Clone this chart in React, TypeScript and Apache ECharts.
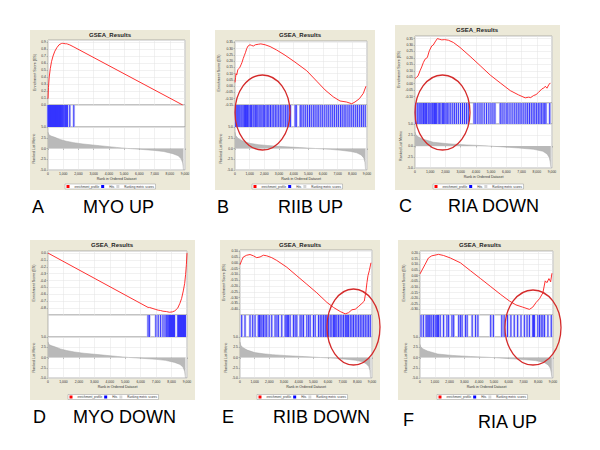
import React, { useEffect, useRef } from "react";
import * as echarts from "echarts";

// ---------- texts ----------
const SERIES_NAMES = ["enrichment_profile", "Hits", "Ranking metric scores"];
const panelLetters = ["A", "B", "C", "D", "E", "F"];
const panelNames = ["MYO UP", "RIIB UP", "RIA DOWN", "MYO DOWN", "RIIB DOWN", "RIA UP"];
const chartTitle = "GSEA_Results";
const esAxisName = "Enrichment Score (ES)";
const rankAxisName = "Ranked List Metric";
const xAxisName = "Rank in Ordered Dataset";

// ---------- enrichment profiles [rank, ES] ----------
const esA = [[0,0.09],[30,0.25],[80,0.4],[150,0.52],[230,0.62],[330,0.7],[450,0.77],[580,0.82],[720,0.86],[880,0.88],[950,0.882],[1040,0.88],[1150,0.876],[1210,0.877],[1280,0.872],[1430,0.86],[1700,0.83],[8850,0.0]];
const esB = [[0,0.03],[40,0.07],[70,0.1],[120,0.09],[190,0.13],[260,0.14],[330,0.15],[410,0.17],[480,0.19],[560,0.22],[640,0.245],[720,0.27],[800,0.3],[890,0.32],[1020,0.33],[1130,0.325],[1250,0.32],[1390,0.33],[1590,0.334],[1760,0.337],[2050,0.33],[2390,0.316],[2840,0.288],[3410,0.247],[4090,0.192],[4890,0.123],[5570,0.04],[6140,-0.03],[6700,-0.085],[7160,-0.118],[7600,-0.126],[7960,-0.14],[8180,-0.126],[8480,-0.1],[8750,-0.057],[8930,0.0]];
const esC = [[0,0.04],[110,0.05],[200,0.06],[330,0.1],[440,0.13],[550,0.164],[660,0.19],[810,0.203],[940,0.255],[1100,0.293],[1200,0.3],[1320,0.324],[1470,0.35],[1600,0.345],[1760,0.34],[1950,0.342],[2200,0.337],[2520,0.32],[2960,0.281],[3620,0.212],[4280,0.14],[4940,0.067],[5600,0.006],[6260,-0.054],[6800,-0.087],[7240,-0.11],[7460,-0.105],[7600,-0.108],[7790,-0.092],[7950,-0.085],[8120,-0.067],[8340,-0.04],[8450,-0.035],[8560,-0.02],[8670,-0.035],[8780,-0.01],[8890,0.006]];
const esD = [[0,0.0],[6478,-0.79],[6566,-0.79],[6983,-0.82],[7136,-0.83],[7290,-0.835],[7444,-0.845],[7663,-0.85],[7860,-0.86],[8050,-0.855],[8210,-0.84],[8400,-0.8],[8540,-0.73],[8650,-0.66],[8760,-0.55],[8850,-0.44],[8910,-0.31],[8960,-0.17],[9000,0.0]];
const esE = [[0,-0.017],[114,0.02],[228,0.05],[456,0.065],[683,0.071],[911,0.06],[1139,0.044],[1367,0.05],[1595,0.065],[1822,0.06],[2164,0.044],[2506,0.02],[3189,-0.038],[3873,-0.112],[4556,-0.185],[5239,-0.259],[5923,-0.341],[6378,-0.385],[6834,-0.42],[7176,-0.44],[7403,-0.43],[7631,-0.405],[7859,-0.4],[8087,-0.376],[8314,-0.35],[8474,-0.33],[8588,-0.244],[8656,-0.17],[8725,-0.112],[8816,-0.068],[8930,0.0]];
const esF = [[0,0.016],[341,0.1],[570,0.158],[797,0.177],[1253,0.19],[1595,0.18],[2050,0.158],[2734,0.115],[3417,0.044],[4100,-0.026],[4784,-0.097],[5467,-0.168],[6037,-0.224],[6492,-0.26],[6948,-0.28],[7404,-0.3],[7631,-0.28],[7859,-0.238],[8087,-0.205],[8314,-0.153],[8474,-0.046],[8588,-0.062],[8725,-0.026],[8839,-0.054],[8930,0.022]];

// ---------- hit positions (rank) ----------
const hitsA = [0,18,40,66,88,112,138,161,183,209,228,255,277,301,322,349,371,392,418,441,463,489,508,533,559,582,604,627,651,674,698,722,744,768,791,813,839,858,880,947,990,1035,1100,1145,1211,1277,1430,1694];
const hitsB = [40,120,190,260,330,410,480,560,640,690,720,760,800,850,890,960,1050,1130,1230,1300,1390,1480,1560,1650,1760,1840,1930,2020,2120,2230,2310,2420,2530,2640,2750,2860,2980,3090,3200,3330,3450,3560,3680,3780,4100,4180,4450,4560,4690,4820,4950,5080,5200,5340,5460,5590,5710,5850,5980,6120,6260,6390,6530,6660,6790,6930,7050,7190,7310,7440,7560,7700,7830,7960,8090,8230,8360,8500,8630,8750,8880];
const hitsC = [40,150,260,330,400,470,560,640,700,760,860,920,990,1060,1140,1200,1280,1350,1420,1520,1600,1700,1800,1880,1960,2040,2120,2230,2350,2480,2600,2720,2850,2990,3120,3250,3380,3500,3880,3990,4130,4270,4400,4550,4700,4850,4990,5120,5250,5600,5720,5850,5990,6100,6240,6380,6520,6650,6780,6900,7020,7150,7280,7400,7520,7640,7760,7870,7990,8100,8210,8320,8420,8520,8600,8850];
const hitsD = [6478,6566,6983,7136,7290,7444,7575,7663,7750,7816,7860,7882,7905,7928,7951,7975,7998,8021,8046,8069,8090,8116,8139,8162,8190,8410,8431,8455,8478,8502,8524,8549,8571,8596,8618,8641,8667,8689,8712,8734,8759,8781,8804,8829,8851,8874,8900];
const hitsE = [114,342,683,865,1025,1250,1330,1420,1500,1600,1710,1822,1990,2164,2392,2520,2620,2847,3075,3150,3230,3303,3417,3645,3760,3873,4100,4220,4328,4556,4680,4784,5011,5125,5353,5470,5581,5700,5809,5870,5940,6037,6150,6264,6378,6450,6530,6606,6720,6830,6948,7060,7176,7230,7290,7350,7403,7520,7631,7740,7859,7970,8087,8200,8314,8430,8542,8660,8770,8884];
const hitsF = [68,228,410,480,550,620,683,797,911,1025,1100,1180,1253,1367,1595,1822,1936,2164,2278,2620,2734,2847,3075,3189,3531,3759,3918,4784,4966,5535,5695,5923,6151,6378,6606,6834,7062,7244,7404,7631,7680,7745,7973,8087,8201,8314,8428,8656,8884];

// ---------- ranked list metric [rank, metric] ----------
const rankMYO = [[0,3.8],[60,3.2],[200,2.9],[450,2.6],[800,2.1],[1200,1.7],[1700,1.35],[2300,1.05],[3400,0.65],[4500,0.25],[5200,0.02],[6000,-0.17],[7000,-0.45],[7600,-0.7],[8200,-1.2],[8550,-1.7],[8750,-2.4],[8850,-3.4],[8900,-5.0]];
const rankRIIB = [[0,3.8],[50,3.0],[200,2.4],[500,1.8],[1000,1.2],[1600,0.9],[2200,0.7],[3200,0.45],[4400,0.22],[5500,0.0],[6500,-0.2],[7200,-0.4],[7900,-0.7],[8300,-1.0],[8600,-1.5],[8780,-2.2],[8860,-3.2],[8900,-4.9]];
const rankRIA = [[0,3.2],[50,2.6],[200,2.1],[500,1.6],[1200,0.85],[2200,0.5],[3400,0.25],[4600,0.05],[5600,-0.17],[6800,-0.45],[7800,-0.75],[8400,-1.2],[8670,-1.8],[8820,-2.6],[8880,-3.6],[8920,-4.8]];

const ES_DATA = [esA, esB, esC, esD, esE, esF];
const HITS = [hitsA, hitsB, hitsC, hitsD, hitsE, hitsF];
const RANKED = [rankMYO, rankRIIB, rankRIA, rankMYO, rankRIIB, rankRIA];

// ES axis scales
const ES_SCALE = [
  { min: 0, max: 0.93, interval: 0.1, dec: 1, hideMin: false },
  { min: -0.15, max: 0.36, interval: 0.05, dec: 2, hideMin: false },
  { min: -0.15, max: 0.37, interval: 0.05, dec: 2, hideMin: true },
  { min: -0.9, max: 0.03, interval: 0.1, dec: 1, hideMin: true },
  { min: -0.45, max: 0.11, interval: 0.05, dec: 2, hideMin: true },
  { min: -0.35, max: 0.22, interval: 0.05, dec: 2, hideMin: true },
];

// ---------- layout (pixels) ----------
const LAYOUT = [
  { box: [30, 30, 160, 160], title: [110, 35], px: [48, 185], ey: [40, 105], hy: [105, 127], ry: [127, 170], legend: [65, 184], letter: [32, 207], name: [83, 207], ellipse: null },
  { box: [215, 30, 160, 160], title: [300, 35], px: [235, 367], ey: [41, 105], hy: [105, 127], ry: [127, 170], legend: [252, 184], letter: [217, 207], name: [278, 207], ellipse: [262.5, 112.5, 27.5, 37.5] },
  { box: [395, 25, 165, 165], title: [477, 30], px: [415, 552], ey: [36, 103], hy: [103, 124], ry: [124, 168], legend: [433, 184], letter: [399, 206], name: [448, 206], ellipse: [442.5, 112.5, 27.5, 37.5] },
  { box: [30, 240, 165, 160], title: [112, 245], px: [48, 187], ey: [251, 315], hy: [315, 337], ry: [337, 378], legend: [68, 394.5], letter: [33, 417], name: [73, 417], ellipse: null },
  { box: [220, 240, 160, 160], title: [300, 245], px: [240, 372], ey: [250, 315], hy: [315, 337], ry: [337, 378], legend: [257, 394.5], letter: [222, 417], name: [273, 417], ellipse: [353.5, 327, 26.5, 38] },
  { box: [398, 240, 162, 160], title: [480, 245], px: [420, 553], ey: [251, 315], hy: [315, 337], ry: [337, 378], legend: [437, 394.5], letter: [403, 420], name: [478, 422], ellipse: [533, 327.5, 28, 37.5] },
];

const FONT = '"Liberation Sans", Arial, sans-serif';

const fmtThousands = (v: number) => String(Math.round(v)).replace(/\B(?=(\d{3})+(?!\d))/g, ",");
const fmtDec = (v: number, d: number) => {
  let s = v.toFixed(d);
  if (/^-0\.0+$/.test(s)) s = s.slice(1);
  return s;
};

const renderHit = (params: any, api: any) => {
  const x = api.coord([api.value(0), 0])[0];
  const cs = params.coordSys;
  return {
    type: "group",
    children: [
      { type: "rect", shape: { x: x - 1.3, y: cs.y, width: 2.6, height: cs.height }, style: { fill: "#c6c6f6" }, z2: 0 },
      { type: "rect", shape: { x: x - 0.5, y: cs.y, width: 1, height: cs.height }, style: { fill: "#3535ff" }, z2: 5 },
    ],
  };
};

function buildOption() {
  const grid: any[] = [], xAxis: any[] = [], yAxis: any[] = [], series: any[] = [], legend: any[] = [], graphic: any[] = [];
  const gridLine = { show: true, lineStyle: { color: "#e2e2e2", width: 0.5 } };
  const tick = { show: true, length: 1.5, lineStyle: { color: "#888", width: 0.5 } };
  const lbl = { fontSize: 3.4, color: "#333", margin: 2, fontFamily: FONT };
  const nameStyle = { fontSize: 3.6, color: "#333", fontFamily: FONT };

  LAYOUT.forEach((L, i) => {
    const g0 = i * 3;
    const [x0, x1] = L.px;
    const mk = (top: number, bottom: number) => ({
      left: x0, top, width: x1 - x0, height: bottom - top,
      show: true, backgroundColor: "#fff", borderColor: "#8a8a8a", borderWidth: 0.6, containLabel: false,
    });
    grid.push(mk(L.ey[0], L.ey[1]), mk(L.hy[0], L.hy[1]), mk(L.ry[0], L.ry[1]));

    const xBase = { type: "value", min: 0, max: 9000, interval: 1000 };
    xAxis.push(
      { ...xBase, gridIndex: g0, axisLabel: { show: false }, axisTick: { show: false }, axisLine: { show: false }, splitLine: gridLine },
      { ...xBase, gridIndex: g0 + 1, show: false, splitLine: { show: false } },
      {
        ...xBase, gridIndex: g0 + 2, axisLine: { show: false }, axisTick: tick,
        axisLabel: { ...lbl, formatter: fmtThousands }, splitLine: gridLine,
        name: xAxisName, nameLocation: "middle", nameGap: 7, nameTextStyle: nameStyle,
      }
    );

    const s = ES_SCALE[i];
    yAxis.push(
      {
        type: "value", gridIndex: g0, min: s.min, max: s.max, interval: s.interval,
        axisLabel: { ...lbl, showMinLabel: !s.hideMin, showMaxLabel: false, formatter: (v: number) => fmtDec(v, s.dec) },
        axisTick: tick, axisLine: { show: false }, splitLine: gridLine,
        name: esAxisName, nameLocation: "middle", nameGap: 11, nameTextStyle: nameStyle,
      },
      { type: "value", gridIndex: g0 + 1, min: 0, max: 1, show: false, splitLine: { show: false } },
      {
        type: "value", gridIndex: g0 + 2, min: -5, max: 5, interval: 2.5,
        axisLabel: { ...lbl, formatter: (v: number) => fmtDec(v, 1) },
        axisTick: tick, axisLine: { show: false }, splitLine: gridLine,
        name: rankAxisName, nameLocation: "middle", nameGap: 10, nameTextStyle: nameStyle,
      }
    );

    series.push(
      {
        type: "line", name: SERIES_NAMES[0], xAxisIndex: g0, yAxisIndex: g0, data: ES_DATA[i],
        showSymbol: false, symbol: "none", lineStyle: { color: "#ff1a1a", width: 0.9 }, itemStyle: { color: "#ff0000" }, z: 5,
      },
      {
        type: "custom", name: SERIES_NAMES[1], xAxisIndex: g0 + 1, yAxisIndex: g0 + 1,
        data: HITS[i].map((h) => [h, 0]), encode: { x: 0, y: 1 }, itemStyle: { color: "#0000ff" }, renderItem: renderHit,
      },
      {
        type: "line", name: SERIES_NAMES[2], xAxisIndex: g0 + 2, yAxisIndex: g0 + 2, data: RANKED[i],
        showSymbol: false, symbol: "none", lineStyle: { color: "#a6a6a6", width: 0.5 },
        areaStyle: { color: "#b9b9b9", opacity: 1 }, itemStyle: { color: "#d4d4d4" },
      }
    );

    legend.push({
      left: L.legend[0], top: L.legend[1], data: SERIES_NAMES, icon: "rect",
      itemWidth: 3, itemHeight: 3, itemGap: 2, padding: [1, 1.5],
      backgroundColor: "#fff", borderColor: "#999", borderWidth: 0.5, selectedMode: false,
      textStyle: { fontSize: 3, color: "#333", fontFamily: FONT },
    });

    const [bx, by, bw, bh] = L.box;
    graphic.push({ type: "rect", z: -10, shape: { x: bx, y: by, width: bw, height: bh }, style: { fill: "#ECE9D8" }, silent: true });
    graphic.push({
      type: "text", z: 100, x: L.title[0], y: L.title[1],
      style: { text: chartTitle, fontSize: 6, fontWeight: "bold", fontFamily: FONT, fill: "#222", align: "center", verticalAlign: "middle" },
    });
    graphic.push({
      type: "text", z: 100, x: L.letter[0], y: L.letter[1],
      style: { text: panelLetters[i], fontSize: 18, fontFamily: FONT, fill: "#000", align: "left", verticalAlign: "middle" },
    });
    graphic.push({
      type: "text", z: 100, x: L.name[0], y: L.name[1],
      style: { text: panelNames[i], fontSize: 18, fontFamily: FONT, fill: "#000", align: "left", verticalAlign: "middle" },
    });
    if (L.ellipse) {
      const [cx, cy, rx, ry] = L.ellipse;
      graphic.push({
        type: "ellipse", z: 100, shape: { cx, cy, rx, ry },
        style: { fill: "transparent", stroke: "#d42a2a", lineWidth: 1.3 }, silent: true,
      });
    }
  });

  return {
    animation: false,
    textStyle: { fontFamily: FONT },
    grid, xAxis, yAxis, series, legend,
    graphic: { elements: graphic },
  };
}

export default function App() {
  const ref = useRef<HTMLDivElement>(null);
  useEffect(() => {
    if (!ref.current) return;
    const chart = echarts.init(ref.current, undefined, { renderer: "svg" });
    chart.setOption(buildOption() as any);
    return () => chart.dispose();
  }, []);
  return (
    <div
      ref={ref}
      style={{ position: "absolute", left: 0, top: 0, width: 600, height: 450, background: "#fff" }}
    />
  );
}
